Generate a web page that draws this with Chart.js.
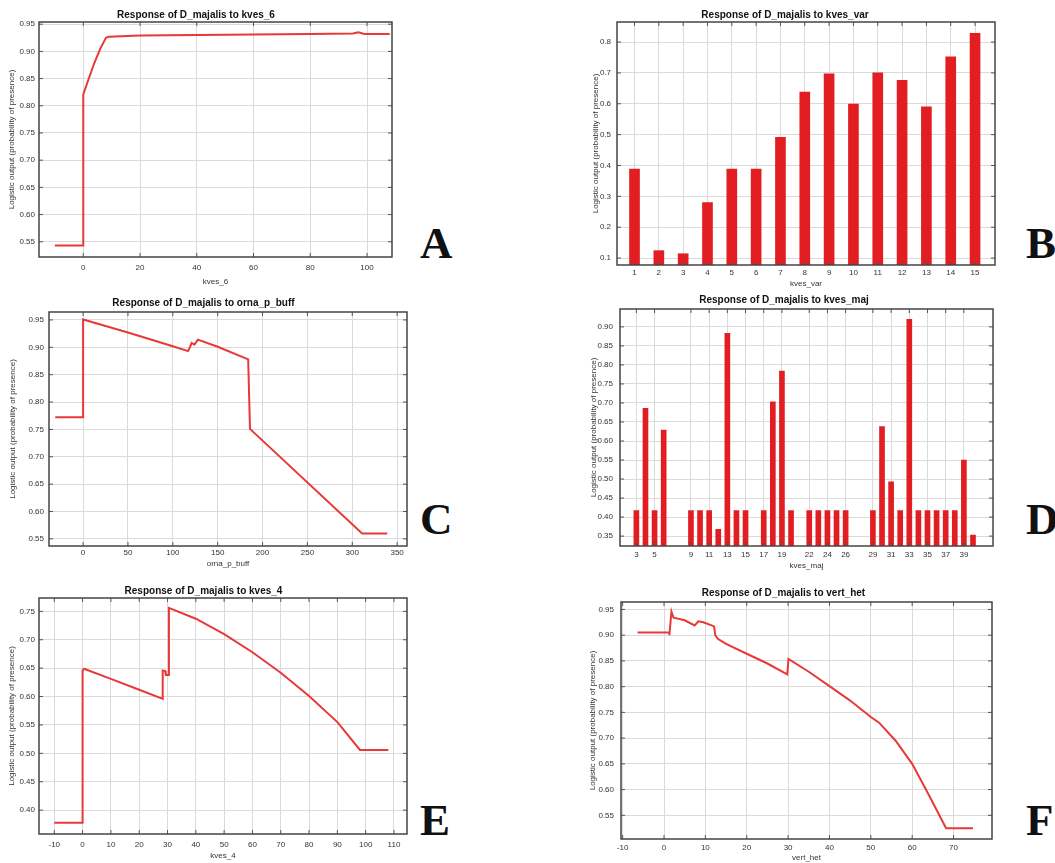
<!DOCTYPE html>
<html>
<head>
<meta charset="utf-8">
<script src="https://cdn.jsdelivr.net/npm/chart.js@4.4.1/dist/chart.umd.min.js"></script>
<style>
   body { margin: 0; background: #fff; width: 1055px; height: 863px; position: relative; overflow: hidden; }
   canvas { position: absolute; }
   .tag { position: absolute; font: bold 45px "Liberation Serif", "Times New Roman", serif; line-height: 1; color: #111; }
</style>
</head>
<body>
<canvas id="cA"></canvas>
<canvas id="cB"></canvas>
<canvas id="cC"></canvas>
<canvas id="cD"></canvas>
<canvas id="cE"></canvas>
<canvas id="cF"></canvas>
<div class="tag" style="left:420px;top:221px">A</div>
<div class="tag" style="left:1026px;top:221px">B</div>
<div class="tag" style="left:420px;top:497px">C</div>
<div class="tag" style="left:1026px;top:497px">D</div>
<div class="tag" style="left:420px;top:798px">E</div>
<div class="tag" style="left:1026px;top:798px">F</div>
<script>
// ---- data ----

// A: response to kves_6
const kves6X = [-10, 0, 0, 2, 4, 6, 8, 9, 20, 40, 60, 80, 95, 97, 99, 108];
const kves6Y = [0.543, 0.543, 0.821, 0.851, 0.88, 0.905, 0.925, 0.927, 0.929, 0.93, 0.931, 0.932, 0.933, 0.935, 0.932, 0.932];

// B: response to kves_var
const kvesVarCats = [1, 2, 3, 4, 5, 6, 7, 8, 9, 10, 11, 12, 13, 14, 15];
const kvesVarVals = [0.388, 0.124, 0.114, 0.28, 0.388, 0.388, 0.491, 0.638, 0.697, 0.599, 0.7, 0.676, 0.59, 0.752, 0.828];

// C: response to orna_p_buff
const ornaX = [-31, 0, 0, 2, 50, 100, 117, 119, 121, 124, 128, 150, 184, 186, 311, 339];
const ornaY = [0.772, 0.772, 0.951, 0.95, 0.927, 0.902, 0.893, 0.9, 0.908, 0.905, 0.914, 0.901, 0.878, 0.751, 0.56, 0.56];

// D: response to kves_maj
const kvesMajCats = [3, 4, 5, 6, 9, 10, 11, 12, 13, 14, 15, 17, 18, 19, 20, 22, 23, 24, 25, 26, 29, 30, 31, 32, 33, 34, 35, 36, 37, 38, 39, 40];
const kvesMajVals = [0.417, 0.686, 0.417, 0.629, 0.417, 0.417, 0.417, 0.368, 0.883, 0.417, 0.417, 0.417, 0.703, 0.784, 0.417, 0.417, 0.417, 0.417, 0.417, 0.417, 0.417, 0.638, 0.493, 0.417, 0.92, 0.417, 0.417, 0.417, 0.417, 0.417, 0.55, 0.353];
const kvesMajTicks = [3, 5, 9, 11, 13, 15, 17, 19, 22, 24, 26, 29, 31, 33, 35, 37, 39];

// E: response to kves_4
const kves4X = [-10, 0, 0, 0.5, 10, 20, 28.3, 28.3, 29.2, 29.4, 30.3, 30.5, 40, 50, 60, 70, 80, 90, 98, 108];
const kves4Y = [0.378, 0.378, 0.646, 0.649, 0.631, 0.612, 0.596, 0.646, 0.645, 0.638, 0.638, 0.756, 0.737, 0.71, 0.678, 0.642, 0.601, 0.555, 0.506, 0.506];

// F: response to vert_het
const vertHetX = [-6.4, 1.3, 1.3, 1.8, 2.3, 5, 7.4, 8.3, 9.5, 11.5, 12.1, 12.4, 13, 15, 20, 25, 29.8, 30.1, 35, 40, 45, 50, 52, 56, 60, 64, 68.2, 74.7];
const vertHetY = [0.905, 0.905, 0.9, 0.946, 0.934, 0.929, 0.919, 0.927, 0.925, 0.919, 0.917, 0.9, 0.893, 0.883, 0.864, 0.845, 0.824, 0.854, 0.829, 0.801, 0.773, 0.741, 0.73, 0.695, 0.65, 0.59, 0.525, 0.525];

// tick values
const ticks55to95 = [0.55, 0.6, 0.65, 0.7, 0.75, 0.8, 0.85, 0.9, 0.95];
const ticksB = [0.1, 0.2, 0.3, 0.4, 0.5, 0.6, 0.7, 0.8];
const ticksD = [0.35, 0.4, 0.45, 0.5, 0.55, 0.6, 0.65, 0.7, 0.75, 0.8, 0.85, 0.9];
const ticksE = [0.4, 0.45, 0.5, 0.55, 0.6, 0.65, 0.7, 0.75];
const xTicksA = [0, 20, 40, 60, 80, 100];
const xTicksC = [0, 50, 100, 150, 200, 250, 300, 350];
const xTicksE = [-10, 0, 10, 20, 30, 40, 50, 60, 70, 80, 90, 100, 110];
const xTicksF = [-10, 0, 10, 20, 30, 40, 50, 60, 70];

const Y_TITLE = "Logistic output (probability of presence)";

// ---- drawing ----
const FONT = '"Liberation Sans", Arial, sans-serif';
const LINE_RED = "rgb(232,56,56)";
const BAR_RED = "rgb(226,30,34)";

// MATLAB style box with inward ticks on all sides
const frameBox = {
   id: "frameBox",
   afterDraw(chart) {
      const { ctx, chartArea: a, scales } = chart;
      ctx.save();
      ctx.strokeStyle = "#555";
      ctx.lineWidth = 1;
      ctx.beginPath();
      scales.x.ticks.forEach((t) => {
         const p = scales.x.getPixelForValue(t.value);
         ctx.moveTo(p, a.bottom);
         ctx.lineTo(p, a.bottom - 4);
         ctx.moveTo(p, a.top);
         ctx.lineTo(p, a.top + 4);
      });
      scales.y.ticks.forEach((t) => {
         const p = scales.y.getPixelForValue(t.value);
         ctx.moveTo(a.left, p);
         ctx.lineTo(a.left + 4, p);
         ctx.moveTo(a.right, p);
         ctx.lineTo(a.right - 4, p);
      });
      ctx.stroke();
      ctx.lineWidth = 1.5;
      ctx.strokeStyle = "#444";
      ctx.strokeRect(a.left, a.top, a.right - a.left, a.bottom - a.top);
      ctx.restore();
   },
};

const setTicks = (values) => (scale) => {
   scale.ticks = values.map((v) => ({ value: v }));
};

const buildChart = (id, p, type, dataset, xAxis, yAxis) => {
   const [l, t, r, b] = p.frame;
   const ct = Math.round(p.titleY - 8);
   const cb = Math.round(p.xTitleY + 5);
   const w = r + 4 - p.left;
   const h = cb - ct;
   const titleTop = p.titleY - 5 - ct;
   const xAxisH = cb - b;
   const yAxisW = l - p.left;

   const cv = document.getElementById(id);
   cv.width = w;
   cv.height = h;
   cv.style.left = p.left + "px";
   cv.style.top = ct + "px";
   cv.style.width = w + "px";
   cv.style.height = h + "px";

   const grid = { color: "#dadada", lineWidth: 1, drawTicks: false, offset: false };

   return new Chart(cv, {
      type: type,
      data: { datasets: [dataset] },
      options: {
         responsive: false,
         animation: false,
         devicePixelRatio: 1,
         layout: { padding: { left: 0, top: 0, right: 4, bottom: 0 } },
         plugins: {
            legend: { display: false },
            tooltip: { enabled: false },
            title: {
               display: true,
               text: p.title,
               color: "#111",
               font: { family: FONT, size: 10, weight: "bold", lineHeight: 1 },
               padding: { top: titleTop, bottom: t - ct - 10 - titleTop },
            },
         },
         scales: {
            x: {
               type: "linear",
               offset: false,
               min: xAxis.min,
               max: xAxis.max,
               grid: grid,
               border: { display: false },
               afterBuildTicks: setTicks(xAxis.ticks),
               afterFit: (s) => { s.height = xAxisH; },
               ticks: {
                  color: "#333",
                  font: { family: FONT, size: 8 },
                  padding: p.xLabelY - b - 4.8,
                  maxRotation: 0,
                  autoSkip: false,
                  callback: (v) => String(v),
               },
               title: {
                  display: true,
                  text: p.xTitle,
                  color: "#333",
                  font: { family: FONT, size: 8, lineHeight: 1 },
                  padding: { top: 0, bottom: cb - p.xTitleY - 4 },
               },
            },
            y: {
               type: "linear",
               min: yAxis.min,
               max: yAxis.max,
               grid: grid,
               border: { display: false },
               afterBuildTicks: setTicks(yAxis.ticks),
               afterFit: (s) => { s.width = yAxisW; },
               ticks: {
                  color: "#333",
                  font: { family: FONT, size: 8 },
                  padding: l - p.yLabelRight,
                  autoSkip: false,
                  callback: (v) => v.toFixed(yAxis.digits),
               },
               title: {
                  display: true,
                  text: Y_TITLE,
                  color: "#333",
                  font: { family: FONT, size: 8, lineHeight: 1 },
                  padding: { top: p.yTitleX - p.left - 4, bottom: 0 },
               },
            },
         },
      },
      plugins: [frameBox],
   });
};

const toPoints = (xs, ys) => xs.map((x, i) => ({ x: x, y: ys[i] }));

const lineSet = (xs, ys) => ({
   data: toPoints(xs, ys),
   borderColor: LINE_RED,
   borderWidth: 2,
   pointRadius: 0,
   tension: 0,
   fill: false,
});

const barSet = (xs, ys, thickness) => ({
   data: toPoints(xs, ys),
   backgroundColor: BAR_RED,
   borderWidth: 0,
   barThickness: thickness,
});

// A
buildChart("cA",
   { frame: [39, 22, 392, 257], left: 0, titleY: 15, xLabelY: 268, xTitleY: 282, yLabelRight: 35, yTitleX: 12,
     title: "Response of D_majalis to kves_6", xTitle: "kves_6" },
   "line", lineSet(kves6X, kves6Y),
   { min: -15.6, max: 108.8, ticks: xTicksA },
   { min: 0.522, max: 0.954, ticks: ticks55to95, digits: 2 });

// B
buildChart("cB",
   { frame: [617, 22, 995, 265], left: 575, titleY: 15, xLabelY: 273, xTitleY: 284, yLabelRight: 611, yTitleX: 596,
     title: "Response of D_majalis to kves_var", xTitle: "kves_var" },
   "bar", barSet(kvesVarCats, kvesVarVals, 10),
   { min: 0.28, max: 15.82, ticks: kvesVarCats },
   { min: 0.0775, max: 0.865, ticks: ticksB, digits: 1 });

// C
buildChart("cC",
   { frame: [49, 312, 407, 546], left: 0, titleY: 303, xLabelY: 553, xTitleY: 564, yLabelRight: 44, yTitleX: 13,
     title: "Response of D_majalis to orna_p_buff", xTitle: "orna_p_buff" },
   "line", lineSet(ornaX, ornaY),
   { min: -38, max: 361, ticks: xTicksC },
   { min: 0.537, max: 0.9645, ticks: ticks55to95, digits: 2 });

// D
buildChart("cD",
   { frame: [620, 309, 993, 546], left: 575, titleY: 300, xLabelY: 555, xTitleY: 566, yLabelRight: 613, yTitleX: 594,
     title: "Response of D_majalis to kves_maj", xTitle: "kves_maj" },
   "bar", barSet(kvesMajCats, kvesMajVals, 5),
   { min: 1.2, max: 42.2, ticks: kvesMajTicks },
   { min: 0.324, max: 0.947, ticks: ticksD, digits: 2 });

// E
buildChart("cE",
   { frame: [39, 598, 407, 834], left: 0, titleY: 591, xLabelY: 845, xTitleY: 856, yLabelRight: 35, yTitleX: 12,
     title: "Response of D_majalis to kves_4", xTitle: "kves_4" },
   "line", lineSet(kves4X, kves4Y),
   { min: -15.4, max: 114.6, ticks: xTicksE },
   { min: 0.358, max: 0.7735, ticks: ticksE, digits: 2 });

// F
buildChart("cF",
   { frame: [621, 602, 992, 839], left: 575, titleY: 593, xLabelY: 848, xTitleY: 858, yLabelRight: 614, yTitleX: 593,
     title: "Response of D_majalis to vert_het", xTitle: "vert_het" },
   "line", lineSet(vertHetX, vertHetY),
   { min: -10.4, max: 79.3, ticks: xTicksF },
   { min: 0.504, max: 0.9645, ticks: ticks55to95, digits: 2 });
</script>
</body>
</html>
